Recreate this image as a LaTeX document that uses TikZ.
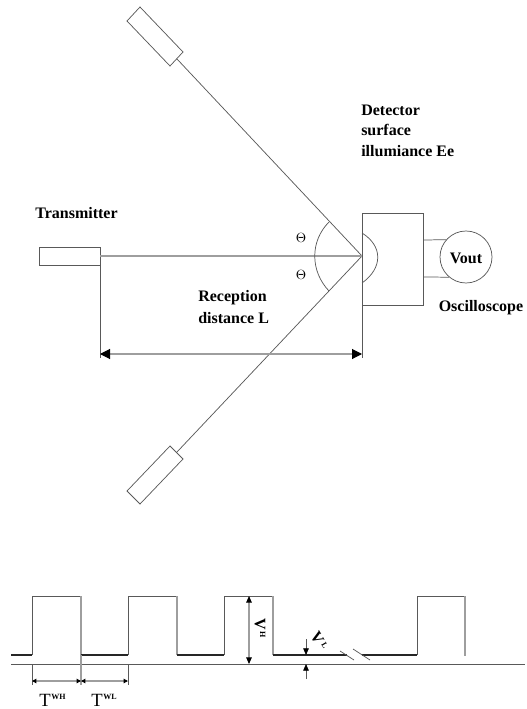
\documentclass[tikz,border=0pt]{standalone}
\usepackage{fontspec}
\setmainfont{Liberation Serif}
\usetikzlibrary{arrows.meta}
\tikzset{
  px/.style={x=0.75pt,y=-0.75pt},
  ln/.style={draw=black!65,line width=0.55pt},
  lite/.style={draw=black!38,line width=0.8pt},
  dark/.style={draw=black!85,line width=0.8pt},
  lab/.style={font=\fontsize{12pt}{14pt}\selectfont\bfseries,inner sep=0pt},
  bigtip/.tip={Triangle[length=7.5pt,width=7.5pt,color=black]},
  smalltip/.tip={Triangle[length=3.2pt,width=3.2pt,color=black]},
  midtip/.tip={Triangle[length=5pt,width=4.2pt,color=black]},
}
\newcommand{\supr}[1]{\kern1.2pt\raisebox{4pt}{\fontsize{6pt}{6pt}\selectfont\bfseries #1}}
\begin{document}
\begin{tikzpicture}[px]
\useasboundingbox (0,0) rectangle (526,709);
% emitters
\coordinate (apex) at (362,256);
\coordinate (up) at (177,59);
\coordinate (lo) at (177,452);
\coordinate (tx) at (100,256);
\draw[ln] (140,7) -- (183,52) -- (170,66) -- (127,21) -- cycle;
\draw[ln] (170,446) -- (183,459) -- (140,504) -- (127,491) -- cycle;
\draw[ln] (39,247) rectangle (100,265);
\draw[ln] (up) -- (apex) -- (lo);
\draw[lite] (tx) -- (apex);
\draw[ln] (100,265) -- (100,358);
\draw[ln] (362,213) -- (362,358);
\coordinate (dl) at (100,354);
\coordinate (dr) at (362,354);
\draw[lite,{bigtip}-{bigtip}] (dl) -- (dr);
% arcs
\draw[ln] (329,222) .. controls (310,241) and (310,271) .. (329,291);
\draw[ln] (362,233) .. controls (383,246) and (383,268) .. (362,283);
% detector
\draw[ln] (362,213) -- (423,213) -- (423,305) -- (362,305);
\node[ln,circle,minimum size=39pt,inner sep=0pt] (scope) at (466,257) {};
\node[lab] at (466,258) {Vout};
\draw[ln] (scope.139) -- (423,240);
\draw[ln] (scope.230) -- (423,277);
% text
\node[lab] (trans) at (76.5,213) {Transmitter};
\node[lab,anchor=west] (d1) at (361,110) {Detector};
\node[lab,anchor=west] (d2) at (361,130) {surface};
\node[lab,anchor=west] (d3) at (361,151) {illumiance Ee};
\node[lab] (osc) at (481,308) {Oscilloscope};
\node[lab,anchor=west] (r1) at (198,298) {Reception};
\node[lab,anchor=west] (r2) at (198,318) {distance L};
\node[font=\fontsize{10pt}{12pt}\selectfont,inner sep=0pt] (th1) at (301,238) {$\Theta$};
\node[font=\fontsize{10pt}{12pt}\selectfont,inner sep=0pt] (th2) at (301,275) {$\Theta$};
% waveform
\draw[ln] (11,664) -- (525,664);
\draw[dark] (11,655) -- (32,655);
\draw[ln] (32,655) -- (32,596) -- (81,596);
\draw[lite] (81,596) -- (81,655);
\draw[dark] (81,655) -- (128,655);
\draw[ln] (128,655) -- (128,596) -- (177,596);
\draw[lite] (177,596) -- (177,655);
\draw[dark] (177,655) -- (224,655);
\draw[ln] (224,655) -- (224,596) -- (273,596);
\draw[lite] (273,596) -- (273,655);
\draw[dark] (273,655) -- (347,655);
\draw[dark] (362,655) -- (417,655);
\draw[ln] (417,655) -- (417,596) -- (465,596);
\draw[lite] (465,596) -- (465,656);
\draw[ln] (340,651) -- (354,660);
\draw[ln] (353,649) -- (370,660);
% dims
\coordinate (vh1) at (249,596);
\coordinate (vh2) at (249,664);
\draw[lite,{midtip}-{midtip}] (vh1) -- (vh2);
\node[font=\fontsize{12pt}{12pt}\selectfont\bfseries,rotate=-90,inner sep=0pt] (vh) at (260,628) {V\supr{H}};
\draw[ln,-{midtip}] (306,639) -- (306,655);
\draw[ln,-{midtip}] (306,679) -- (306,664);
\node[font=\fontsize{12pt}{12pt}\selectfont\bfseries,rotate=-60,inner sep=0pt] (vl) at (319,641) {V\supr{L}};
\draw[ln] (32,664) -- (32,685);
\draw[lite] (81,655) -- (81,685);
\draw[ln] (128,664) -- (128,685);
\coordinate (t1) at (32,681);
\coordinate (t2) at (81,681);
\coordinate (t3) at (128,681);
\draw[lite,{smalltip}-{smalltip}] (t1) -- (t2);
\draw[lite,{smalltip}-{smalltip}] (t2) -- (t3);
\node[font=\fontsize{14pt}{14pt}\selectfont,inner sep=0pt,anchor=base west] (tw1) at (39,706) {T\kern0.5pt\raisebox{5pt}{\fontsize{6pt}{6pt}\selectfont\bfseries WH}};
\node[font=\fontsize{14pt}{14pt}\selectfont,inner sep=0pt,anchor=base west] (tw2) at (91,706) {T\kern0.5pt\raisebox{5pt}{\fontsize{6pt}{6pt}\selectfont\bfseries WL}};
\end{tikzpicture}
\end{document}
